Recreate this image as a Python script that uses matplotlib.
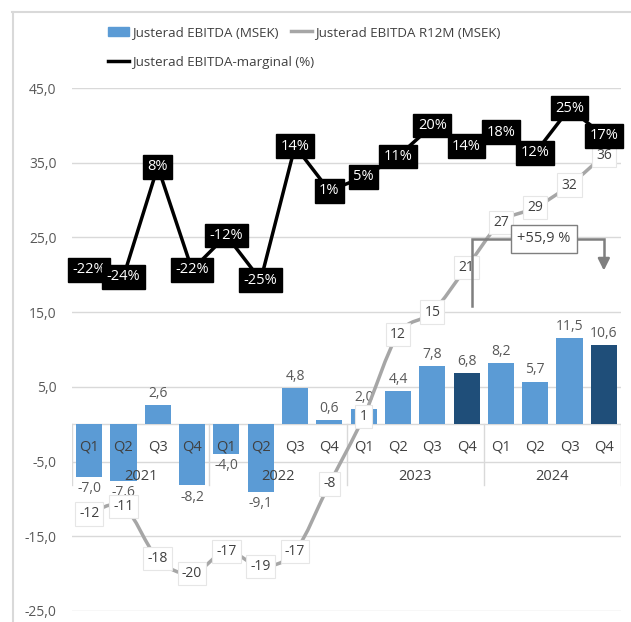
import numpy as np
import matplotlib.pyplot as plt
from matplotlib.path import Path
from matplotlib.patches import PathPatch, Patch
from matplotlib.lines import Line2D

plt.rcParams['font.family'] = ['Open Sans', 'DejaVu Sans']

quarters = ["Q1", "Q2", "Q3", "Q4"] * 4
years = ["2021", "2022", "2023", "2024"]
ebitda = [-7.0, -7.6, 2.6, -8.2, -4.0, -9.1, 4.8, 0.6, 2.0, 4.4, 7.8, 6.8, 8.2, 5.7, 11.5, 10.6]
r12m = [-12, -11, -18, -20, -17, -19, -17, -8, 1, 12, 15, 21, 27, 29, 32, 36]
margin = [-22, -24, 8, -22, -12, -25, 14, 1, 5, 11, 20, 14, 18, 12, 25, 17]
highlight = [11, 15]  # Q4 bars in dark blue
growth_label = "+55,9 %"

BLUE = "#5B9BD5"
DARK = "#1F4E79"
GREY = "#A6A6A6"
TXT = "#595959"
GRID = "#D9D9D9"

x = np.arange(len(ebitda))

fig = plt.figure(figsize=(6.31, 6.22), dpi=100)
ax = fig.add_axes([72 / 631, 1 - 611 / 622, 549 / 631, 523 / 622])
ax.set_xlim(-0.5, 15.5)
ax.set_ylim(-25, 45)
ax.set_yticks(np.arange(-25, 46, 10))
ax.set_yticklabels(["{:.1f}".format(v).replace(".", ",") for v in np.arange(-25, 46, 10)],
                   color=TXT, fontsize=10)
ax.tick_params(axis="y", length=0, pad=11)
ax.set_xticks([])
for s in ax.spines.values():
    s.set_visible(False)
ax.grid(axis="y", color=GRID, linewidth=1)
ax.set_axisbelow(True)

# bars
colors = [DARK if i in highlight else BLUE for i in x]
ax.bar(x, ebitda, width=0.76, color=colors, zorder=2)
for i, v in enumerate(ebitda):
    ax.annotate("{:.1f}".format(v).replace(".", ","), (i, v),
                xytext=(0, 3 if v >= 0 else -3), textcoords="offset points",
                ha="center", va="bottom" if v >= 0 else "top",
                color=TXT, fontsize=10, zorder=3)

# category table below the zero line
ax.plot([-0.5, 15.5], [0, 0], color=GRID, lw=1, zorder=1)
for b in [-0.5, 3.5, 7.5, 11.5, 15.5]:
    ax.plot([b, b], [0, -8.1], color=GRID, lw=1, zorder=1)
for i, q in enumerate(quarters):
    ax.text(i, -3.0, q, ha="center", va="center", fontsize=10.5, color="#404040", zorder=4)
for k, yr in enumerate(years):
    ax.text(4 * k + 1.5, -7.0, yr, ha="center", va="center", fontsize=10.5, color="#404040", zorder=4)

# R12M smooth line (bezier through the points)
pts = np.column_stack([x, r12m]).astype(float)
verts = [pts[0]]
codes = [Path.MOVETO]
n = len(pts)
for i in range(n - 1):
    p0 = pts[max(i - 1, 0)]
    p1 = pts[i]
    p2 = pts[i + 1]
    p3 = pts[min(i + 2, n - 1)]
    verts += [p1 + (p2 - p0) / 6, p2 - (p3 - p1) / 6, p2]
    codes += [Path.CURVE4] * 3
ax.add_patch(PathPatch(Path(verts, codes), facecolor="none", edgecolor=GREY, lw=2.5, zorder=5))
for i, v in enumerate(r12m):
    ax.text(i, v, str(v), ha="center", va="center", fontsize=10, color="#404040", zorder=6,
            bbox=dict(boxstyle="square,pad=0.3", fc="white", ec="#E6E6E6", lw=0.8))

# growth bracket
gc = "#7F7F7F"
ax.plot([11.15, 11.15, 15.0, 15.0], [15.8, 24.8, 24.8, 22.0], color=gc, lw=1.8, zorder=7,
        solid_joinstyle="miter")
ax.annotate("", xy=(15.0, 20.2), xytext=(15.0, 22.5),
            arrowprops=dict(arrowstyle="-|>,head_length=0.7,head_width=0.35", color=gc, lw=1.8),
            zorder=7)
ax.text(13.26, 24.8, growth_label, ha="center", va="center", fontsize=10.5, color="#404040",
        zorder=8, bbox=dict(boxstyle="square,pad=0.45", fc="white", ec=gc, lw=1))

# margin on hidden secondary axis
ax2 = ax.twinx()
ax2.set_ylim(-121.3, 30.9)
ax2.axis("off")
ax2.plot(x, margin, color="black", lw=2.5, zorder=2)
for i, v in enumerate(margin):
    ax2.text(i, v, "{}%".format(v), ha="center", va="center", fontsize=10.5, color="white",
             zorder=3, bbox=dict(boxstyle="square,pad=0.3", fc="black", ec="black"))

# legend (two pieces so the columns sit where the original has them)
leg_kw = dict(loc="upper left", frameon=False, fontsize=9.6, handlelength=1.6,
              handletextpad=0.2, labelspacing=1.25, labelcolor="#404040",
              borderpad=0, borderaxespad=0)
fig.legend([Patch(color=BLUE), Line2D([], [], color="black", lw=2.5)],
           ["Justerad EBITDA (MSEK)", "Justerad EBITDA-marginal (%)"],
           bbox_to_anchor=(108 / 631, 1 - 26 / 622), **leg_kw)
fig.legend([Line2D([], [], color=GREY, lw=2.5)], ["Justerad EBITDA R12M (MSEK)"],
           bbox_to_anchor=(291 / 631, 1 - 26 / 622), **leg_kw)

# outer chart border (top and left visible)
fig.add_artist(Line2D([12 / 631, 1], [1 - 12 / 622] * 2, color=GRID, lw=1.5))
fig.add_artist(Line2D([13 / 631] * 2, [0, 1 - 12 / 622], color=GRID, lw=1.5))

fig.savefig("out.png", dpi=100)
